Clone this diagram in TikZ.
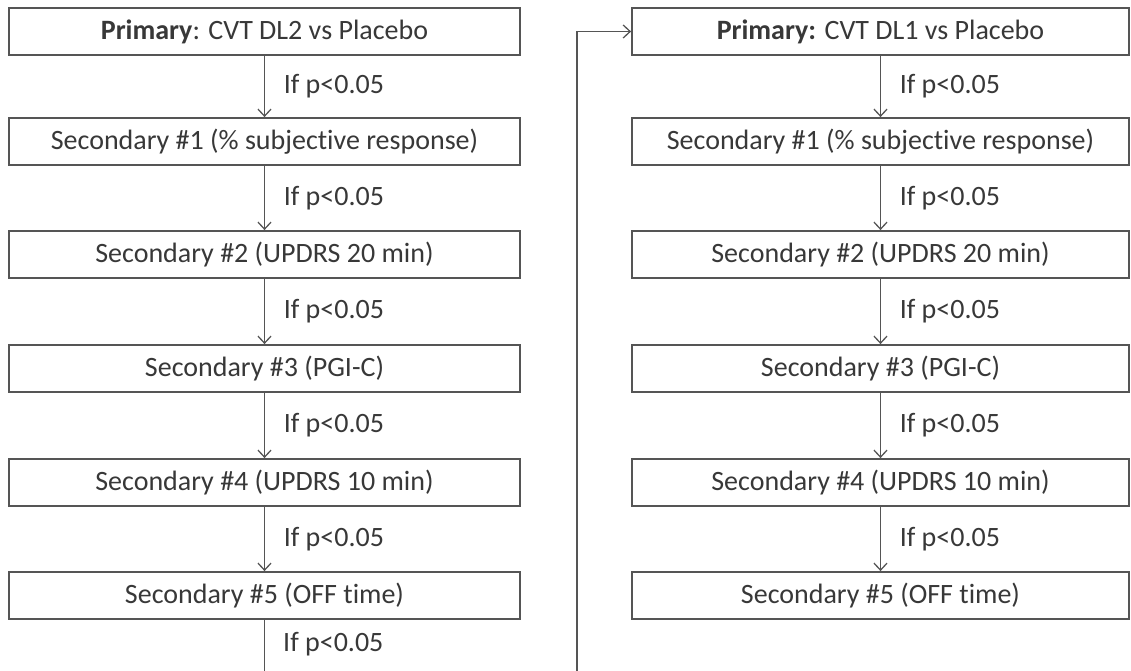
\documentclass[tikz,border=0pt]{standalone}
\usepackage{fontspec}
\setmainfont[Ligatures=NoCommon]{Carlito}
\usetikzlibrary{arrows.meta}
\definecolor{linegray}{HTML}{555555}
\definecolor{textgray}{HTML}{383838}
\tikzset{
  lbox/.style={draw=linegray, line width=1.8pt, fill=white, minimum width=511pt, minimum height=47pt, inner sep=0pt, text=textgray, font=\fontsize{28}{32}\selectfont},
  rbox/.style={lbox, minimum width=497pt},
  arr/.style={draw=linegray, line width=1.5pt, -{Straight Barb[length=7pt,width=13pt,line width=1.3pt]}},
  cond/.style={text=textgray, font=\fontsize{28}{32}\selectfont, anchor=west, inner sep=0pt}
}
\begin{document}
\begin{tikzpicture}[x=1pt,y=-1pt]
\useasboundingbox (0,0) rectangle (1131,671);
% left column
\node[lbox] (L0) at (264.5,31.5) {\textbf{Primary}: CVT DL2 vs Placebo};
\node[lbox] (L1) at (264.5,141.5) {Secondary \#1 (\% subjective response)};
\node[lbox] (L2) at (264.5,254.5) {Secondary \#2 (UPDRS 20 min)};
\node[lbox] (L3) at (264.5,368.5) {Secondary \#3 (PGI-C)};
\node[lbox] (L4) at (264.5,482.5) {Secondary \#4 (UPDRS 10 min)};
\node[lbox] (L5) at (264.5,595.5) {Secondary \#5 (OFF time)};
% right column
\node[rbox] (R0) at (880.5,31.5) {\textbf{Primary:} CVT DL1 vs Placebo};
\node[rbox] (R1) at (880.5,141.5) {Secondary \#1 (\% subjective response)};
\node[rbox] (R2) at (880.5,254.5) {Secondary \#2 (UPDRS 20 min)};
\node[rbox] (R3) at (880.5,368.5) {Secondary \#3 (PGI-C)};
\node[rbox] (R4) at (880.5,482.5) {Secondary \#4 (UPDRS 10 min)};
\node[rbox] (R5) at (880.5,595.5) {Secondary \#5 (OFF time)};
% arrows
\foreach \a/\b in {L0/L1,L1/L2,L2/L3,L3/L4,L4/L5,R0/R1,R1/R2,R2/R3,R3/R4,R4/R5}{
  \draw[arr] (\a.south) -- (\b.north) node[midway, cond, xshift=18.5pt] (c\a) {If p<0.05};
}
% bottom connector
\coordinate (cornA) at (264.5,675);
\coordinate (cornB) at (577,675);
\draw[arr] (L5.south) -- (cornA) -- (cornB) |- (R0.west);
\node[cond] (cL5) at (283,644) {If p<0.05};
\end{tikzpicture}
\end{document}
